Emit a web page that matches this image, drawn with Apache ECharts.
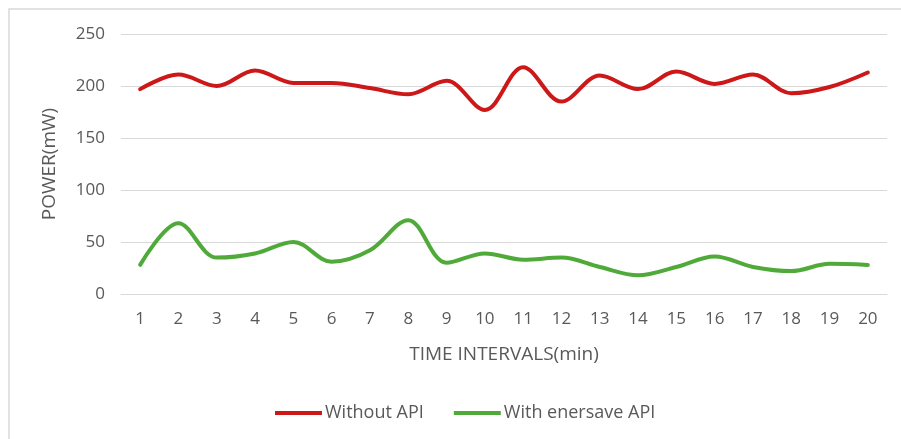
<!DOCTYPE html>
<html>
<head>
<meta charset="utf-8">
<script src="https://cdn.jsdelivr.net/npm/echarts@6/dist/echarts.min.js"></script>
<style>
  html, body { margin: 0; padding: 0; background: #fff; }
  #chart { width: 901px; height: 439px; }
</style>
</head>
<body>
<div id="chart"></div>
<script>
// Time interval categories (minutes)
const intervals = ['1','2','3','4','5','6','7','8','9','10','11','12','13','14','15','16','17','18','19','20'];

// Power draw (mW) per interval
const withoutApi = [197, 211, 200, 215, 203, 203, 198, 192, 205, 177, 218, 185, 210, 197, 214, 202, 211, 193, 199, 213];
const withEnersaveApi = [28, 68, 35, 39, 50, 31, 42, 71, 30, 39, 33, 35, 26, 18, 26, 36, 26, 22, 29, 28];

// Value axis ticks
const yMin = 0, yMax = 250, yStep = 50;

const textColor = '#595959';
const fontFamily = '"Open Sans", "Liberation Sans", sans-serif';

const chart = echarts.init(document.getElementById('chart'), null, { renderer: 'canvas' });

chart.setOption({
  animation: false,
  backgroundColor: '#fff',
  textStyle: { fontFamily: fontFamily, color: textColor },
  graphic: [{
    type: 'rect',
    shape: { x: 9, y: 9, width: 900, height: 440 },
    style: { fill: 'none', stroke: '#d9d9d9', lineWidth: 1.5 },
    silent: true
  }],
  grid: { left: 121, right: 14, top: 34, bottom: 145, containLabel: false },
  legend: {
    top: 399,
    left: 270,
    itemWidth: 47,
    itemHeight: 4,
    itemGap: 30,
    textStyle: { fontFamily: fontFamily, color: textColor, fontSize: 18, padding: [0, 0, 0, -2] },
    data: [
      { name: 'Without API', icon: 'rect' },
      { name: 'With enersave API', icon: 'rect' }
    ]
  },
  xAxis: {
    type: 'category',
    data: intervals,
    boundaryGap: true,
    name: 'TIME INTERVALS(min)',
    nameLocation: 'middle',
    nameGap: 51,
    nameTextStyle: { fontFamily: fontFamily, color: textColor, fontSize: 19 },
    axisLine: { show: true, lineStyle: { color: '#d9d9d9', width: 1 } },
    axisTick: { show: false },
    axisLabel: { color: textColor, fontSize: 17, margin: 17, fontFamily: fontFamily }
  },
  yAxis: {
    type: 'value',
    min: yMin,
    max: yMax,
    interval: yStep,
    name: 'POWER(mW)',
    nameLocation: 'middle',
    nameGap: 62,
    nameRotate: 90,
    nameTextStyle: { fontFamily: fontFamily, color: textColor, fontSize: 19 },
    axisLine: { show: false },
    axisTick: { show: false },
    axisLabel: { color: textColor, fontSize: 17, margin: 16, fontFamily: fontFamily },
    splitLine: { show: true, lineStyle: { color: '#d9d9d9', width: 1 } }
  },
  series: [
    {
      name: 'Without API',
      type: 'line',
      data: withoutApi,
      smooth: 0.35,
      showSymbol: false,
      symbol: 'none',
      itemStyle: { color: '#cc1818' },
      lineStyle: { color: '#cc1818', width: 4, cap: 'round', join: 'round' }
    },
    {
      name: 'With enersave API',
      type: 'line',
      data: withEnersaveApi,
      smooth: 0.35,
      showSymbol: false,
      symbol: 'none',
      itemStyle: { color: '#4faa3a' },
      lineStyle: { color: '#4faa3a', width: 4, cap: 'round', join: 'round' }
    }
  ]
});
</script>
</body>
</html>
